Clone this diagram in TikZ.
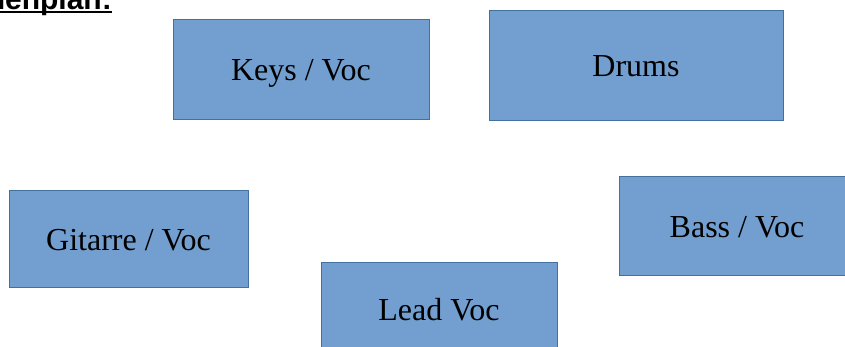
\documentclass[tikz,border=0pt]{standalone}
\usepackage{fontspec}
\setmainfont{Liberation Serif}
\newfontfamily\titlefont{Liberation Sans}
\definecolor{F}{RGB}{114, 159, 207}
\definecolor{E}{RGB}{65, 113, 156}
\tikzset{stagebox/.style={draw=E, fill=F, line width=0.75pt, inner sep=0pt,
   text height=28pt, text depth=4pt, font=\fontsize{32}{36}\selectfont}}

\begin{document}
\begin{tikzpicture}[x=1pt, y=-1pt]
   \useasboundingbox (0,0) rectangle (845,347);
   \clip (0,0) rectangle (845,347);
   \node[stagebox, minimum width=256pt, minimum height=100pt] (keys) at (301, 69) {Keys / Voc};
   \node[stagebox, minimum width=294pt, minimum height=110pt] (drums) at (636, 65) {Drums};
   \node[stagebox, minimum width=239pt, minimum height=97pt] (gitarre) at (128.5, 239) {Gitarre / Voc};
   \node[stagebox, minimum width=236pt, minimum height=99pt] (bass) at (737, 225.5) {Bass / Voc};
   \node[stagebox, minimum width=236pt, minimum height=92pt] (lead) at (439, 308) {Lead Voc};
   % title, cut off by the page edge
   \node[anchor=base east, inner sep=0pt, font=\titlefont\bfseries\fontsize{30}{36}\selectfont] (title) at (112, 10) {Bühnenplan:};
   \draw[line width=2pt] ([yshift=-2.5pt]title.base west) -- ([yshift=-2.5pt]title.base east);
\end{tikzpicture}
\end{document}
